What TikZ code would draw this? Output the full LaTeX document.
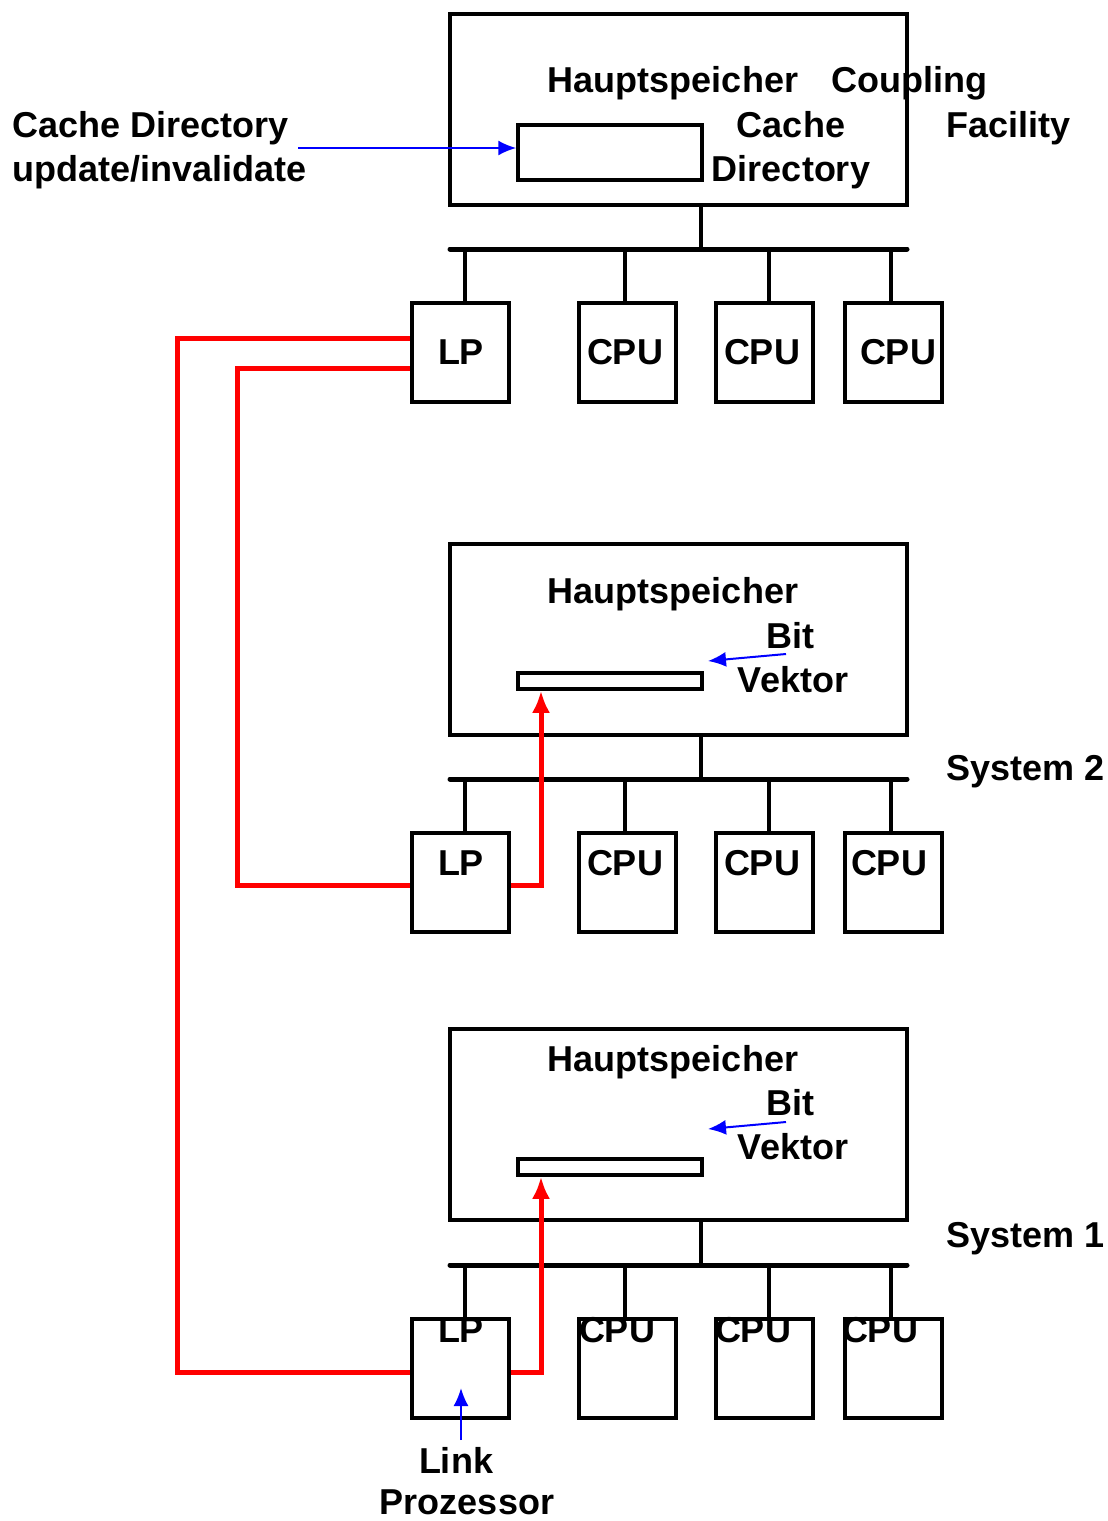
\documentclass[tikz,border=0pt]{standalone}
\usepackage{fontspec}
\setmainfont{Liberation Sans}
\usetikzlibrary{arrows.meta}
\begin{document}
\begin{tikzpicture}[x=1pt,y=-1pt,
  box/.style={draw,line width=4pt,inner sep=0pt,minimum width=97pt,minimum height=99pt},
  mem/.style={draw,line width=4pt,inner sep=0pt,minimum width=457pt,minimum height=191pt},
  slot/.style={draw,line width=3.5pt,inner sep=0pt,minimum width=184pt},
  lbl/.style={font=\fontsize{36}{40}\selectfont\bfseries,inner sep=0pt,anchor=base},
  lbll/.style={lbl,anchor=base west},
  bus/.style={line width=5pt,line cap=round},
  wire/.style={line width=4pt},
  link/.style={red,line width=5pt,line join=miter},
  note/.style={blue,line width=2pt,-{Latex[length=18pt,width=15pt]}},
  up/.style={link,-{Latex[length=22pt,width=18pt]}}]
\useasboundingbox (0,0) rectangle (1108,1521);
\fill[white] (0,0) rectangle (1108,1521);

% ---------- Coupling Facility ----------
\node[mem] (mem3) at (678.5,109.5) {};
\node[slot,minimum height=55pt] (dir3) at (610,152.5) {};
\node[lbl] at (673,92) {Hauptspeicher};
\node[lbll] at (831,92) {Coupling};
\node[lbll] at (946,137) {Facility};
\node[lbl] at (791,137) {Cache};
\node[lbl] at (791,181) {Directory};
\node[lbll] (cdtxt) at (12,137) {Cache Directory};
\node[lbll] at (12,181) {update/invalidate};
\coordinate (cdtail) at (298,148);
\draw[note] (cdtail) -- (dir3.west |- cdtail);

\coordinate (bus3w) at (450,249);
\coordinate (bus3e) at (907,249);
\draw[bus] (bus3w) -- (bus3e);
\draw[wire] (701,205) -- (701,249);
\node[box] (lp3) at (460.5,352.5) {};
\node[box] (c3a) at (627.5,352.5) {};
\node[box] (c3b) at (764,352.5) {};
\node[box] (c3c) at (893.5,352.5) {};
\foreach \x/\n in {465/lp3,625/c3a,769/c3b,891/c3c}
  \draw[wire] (\x,249) -- (\x,0 |- \n.north);
\node[lbl] at (461,364) {LP};
\node[lbl] at (625,364) {CPU};
\node[lbl] at (762,364) {CPU};
\node[lbl] at (898,364) {CPU};

% ---------- System 2 ----------
\node[mem] (mem2) at (678.5,639.5) {};
\node[slot,minimum height=16pt] (vec2) at (610,681) {};
\node[lbl] at (673,603) {Hauptspeicher};
\node[lbl] (bit2) at (790,648) {Bit};
\node[lbl] at (793,692) {Vektor};
\draw[note] (786,654) -- (708,661);
\node[lbll] at (946,780) {System 2};

\draw[bus] (450,779) -- (907,779);
\draw[wire] (701,735) -- (701,779);
\node[box] (lp2) at (460.5,882.5) {};
\node[box] (c2a) at (627.5,882.5) {};
\node[box] (c2b) at (764,882.5) {};
\node[box] (c2c) at (893.5,882.5) {};
\foreach \x/\n in {465/lp2,625/c2a,769/c2b,891/c2c}
  \draw[wire] (\x,779) -- (\x,0 |- \n.north);
\node[lbl] at (461,875) {LP};
\node[lbl] at (625,875) {CPU};
\node[lbl] at (762,875) {CPU};
\node[lbl] at (889,875) {CPU};

% ---------- System 1 ----------
\node[mem] (mem1) at (678.5,1124.5) {};
\node[slot,minimum height=16pt] (vec1) at (610,1167) {};
\node[lbl] at (673,1071) {Hauptspeicher};
\node[lbl] at (790,1115) {Bit};
\node[lbl] at (793,1159) {Vektor};
\draw[note] (786,1122) -- (708,1129);
\node[lbll] at (946,1247) {System 1};

\draw[bus] (450,1265) -- (907,1265);
\draw[wire] (701,1220) -- (701,1265);
\node[box] (lp1) at (460.5,1368) {};
\node[box] (c1a) at (627.5,1368) {};
\node[box] (c1b) at (764,1368) {};
\node[box] (c1c) at (893.5,1368) {};
\foreach \x/\n in {465/lp1,625/c1a,769/c1b,891/c1c}
  \draw[wire] (\x,1265) -- (\x,0 |- \n.north);
\node[lbl] at (461,1342) {LP};
\node[lbl] at (617,1342) {CPU};
\node[lbl] at (753,1342) {CPU};
\node[lbl] at (880,1342) {CPU};

\node[lbl] (lnk) at (456,1473) {Link};
\node[lbl] at (467,1514) {Prozessor};
\draw[note] (461,1440) -- (461,1388);

% ---------- link connections ----------
\draw[link] (lp3.west |- 0,338) -- (177,338) -- (177,1372) -- (lp1.west |- 0,1372);
\draw[link] (lp3.west |- 0,368) -- (237,368) -- (237,885) -- (lp2.west |- 0,885);
\draw[up] (lp2.east |- 0,885) -- (541,885) -- (541,0 |- vec2.south);
\draw[up] (lp1.east |- 0,1372) -- (541,1372) -- (541,0 |- vec1.south);
\end{tikzpicture}
\end{document}
